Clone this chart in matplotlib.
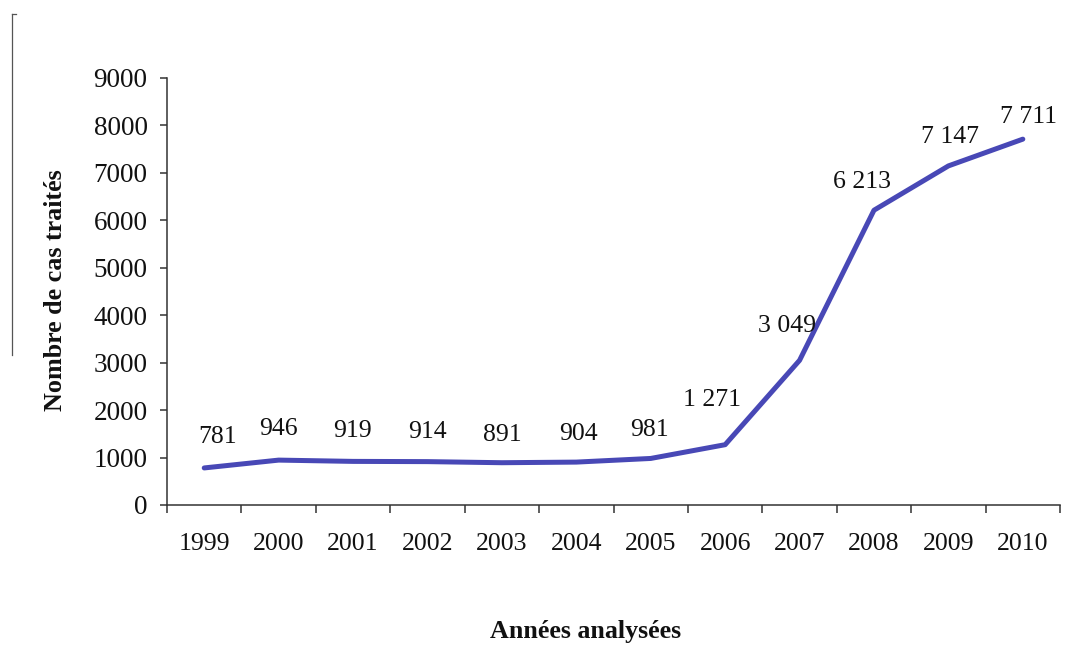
import matplotlib.pyplot as plt
from matplotlib.lines import Line2D
import numpy as np

annees = ['1999', '2000', '2001', '2002', '2003', '2004',
          '2005', '2006', '2007', '2008', '2009', '2010']
cas_traites = [781, 946, 919, 914, 891, 904, 981, 1271, 3049, 6213, 7147, 7711]

# decalage des etiquettes (pixels) par rapport a chaque point
decalages = [(13, 31), (0, 31), (-1, 30), (0, 30), (0, 28), (2, 28),
             (-1, 28), (-13, 45), (-13, 34), (-12, 28), (2, 29), (6, 22)]

plt.rcParams['font.family'] = ['Liberation Serif', 'DejaVu Serif']

fig = plt.figure(figsize=(10.81, 6.56), dpi=100)
ax = fig.add_axes([0.1545, 0.2302, 0.8261, 0.6509])

x = np.arange(len(annees)) + 0.5
ax.plot(x, cas_traites, color='#4848B6', lw=3.6, solid_capstyle='round',
        solid_joinstyle='round')

for xi, val, (dx, dy) in zip(x, cas_traites, decalages):
    txt = f'{val:,}'.replace(',', ' ')
    ax.annotate(txt, (xi, val), xytext=(dx, dy), textcoords='offset pixels',
                ha='center', va='center', fontsize=18.5, color='#111111')

ax.set_xlim(0, 12)
ax.set_ylim(0, 9000)
ax.set_yticks(range(0, 9001, 1000))
ax.set_xticks(range(0, 13))
ax.set_xticklabels([])
ax.set_xticks(x, minor=True)
ax.set_xticklabels(annees, minor=True)

ax.tick_params(axis='y', direction='out', length=5, width=1.1,
               colors='#333333', labelcolor='#111111', labelsize=19.5, pad=9)
ax.tick_params(axis='x', which='major', direction='out', length=6, width=1.1,
               colors='#333333')
ax.tick_params(axis='x', which='minor', length=0, labelsize=18.5,
               labelcolor='#111111', pad=20)

for s in ['top', 'right']:
    ax.spines[s].set_visible(False)
for s in ['left', 'bottom']:
    ax.spines[s].set_color('#333333')
    ax.spines[s].set_linewidth(1.1)

fig.text(0.0509, 0.558, 'Nombre de cas traités', rotation=90, ha='center',
         va='center', fontsize=18.8, fontweight='bold', color='#111111')
fig.text(0.542, 0.038, 'Années analysées', ha='center', va='center',
         fontsize=18.7, fontweight='bold', color='#111111')

# trait vertical en marge gauche
fig.add_artist(Line2D([0.0111, 0.0111], [1 - 14 / 656, 1 - 355 / 656],
                      color='#555555', lw=0.9, transform=fig.transFigure))
fig.add_artist(Line2D([0.0111, 0.0148], [1 - 14 / 656, 1 - 14 / 656],
                      color='#555555', lw=0.9, transform=fig.transFigure))

fig.savefig('out.png', dpi=100)
